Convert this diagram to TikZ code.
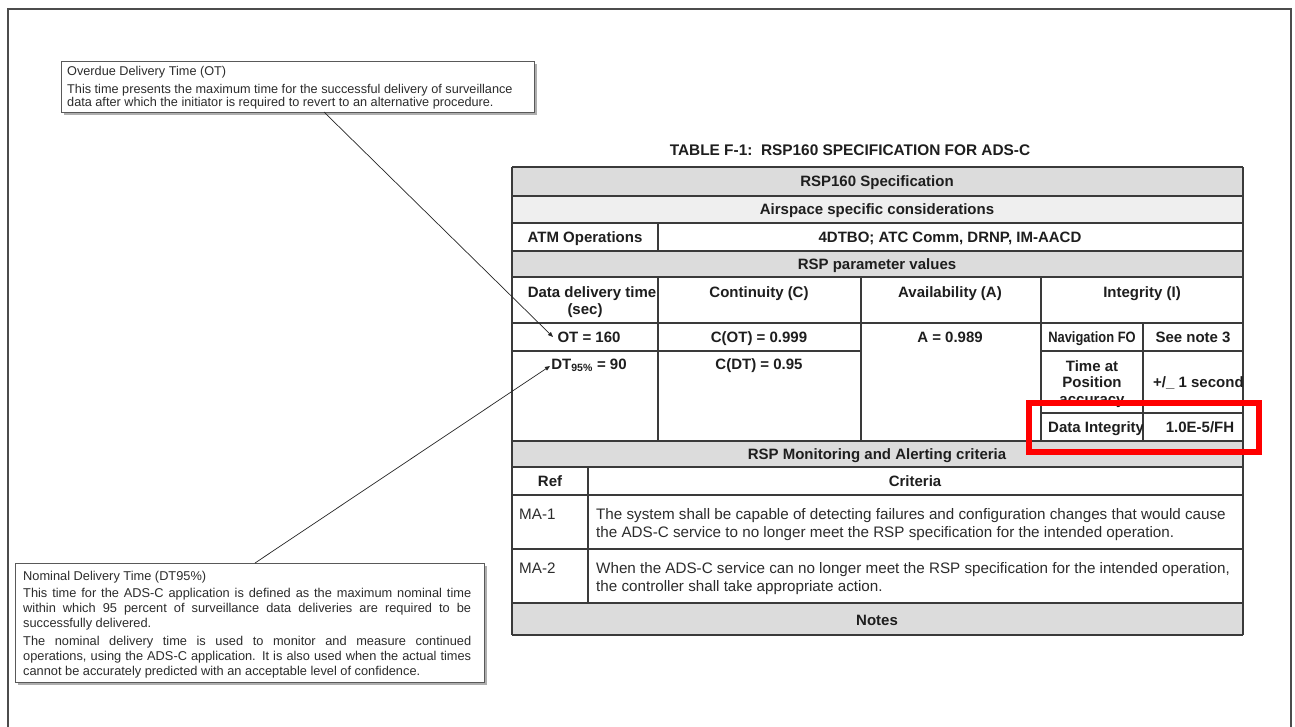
\documentclass[tikz,border=0pt]{standalone}
\usepackage{fontspec}
\setmainfont{Liberation Sans}
\usetikzlibrary{arrows.meta,shadows}
\definecolor{rowgray}{HTML}{DCDCDC}
\definecolor{rowlight}{HTML}{EFEFEF}
\definecolor{rulecol}{HTML}{3A3A3A}
\definecolor{ink}{HTML}{1E1E1E}
\definecolor{softink}{HTML}{2C2C2C}
\definecolor{hilite}{HTML}{FF0000}
\tikzset{
  hd/.style={font=\fontsize{15}{17}\selectfont\bfseries, text=ink, inner sep=0pt, anchor=base},
  hdw/.style={hd, anchor=base west},
  crit/.style={font=\fontsize{15.2}{18}\selectfont, text=softink, inner sep=0pt, anchor=base west},
  callout/.style={draw=black!65, line width=1.2pt, fill=white, inner sep=0pt, anchor=north west,
    drop shadow={shadow xshift=2pt, shadow yshift=-2.5pt, fill=black!45, opacity=0.7}},
  calltxt/.style={font=\fontsize{12.7}{13}\selectfont, text=softink, inner sep=0pt, anchor=base west},
  leader/.style={draw=black!85, line width=0.7pt, -{Triangle[length=5pt,width=4pt]}},
  gridline/.style={draw=rulecol, line width=1.1pt},
}
\begin{document}
\begin{tikzpicture}[x=1pt,y=-1pt]
\useasboundingbox (0,0) rectangle (1295,726);
\fill[white] (0,0) rectangle (1295,726);
% page frame
\draw[black!70, line width=1.5pt] (8,740) -- (8,9) -- (1291,9) -- (1291,740);

% ---- table title
\node[hd, font=\fontsize{15.4}{17}\selectfont\bfseries] (title) at (850,155.5) {TABLE F-1:\ \ RSP160 SPECIFICATION FOR ADS-C};

% ---- shaded rows
\fill[rowgray]  (512,167) rectangle (1243,196);
\fill[rowlight] (512,196) rectangle (1243,223);
\fill[rowgray]  (512,251) rectangle (1243,277);
\fill[rowgray]  (512,441) rectangle (1243,467);
\fill[rowgray]  (512,603) rectangle (1243,635);

% ---- rules
\foreach \yy in {167,196,223,251,277,323,441,467,495,549,603,635}
  \draw[gridline] (512,\yy) -- (1243,\yy);
\draw[gridline] (512,351) -- (861,351);
\draw[gridline] (1041,351) -- (1243,351);
\draw[gridline] (1041,413) -- (1243,413);
\draw[gridline] (512,167) -- (512,635);
\draw[gridline] (1243,167) -- (1243,635);
\draw[gridline] (658,223) -- (658,251);
\foreach \xx in {658,861,1041} \draw[gridline] (\xx,277) -- (\xx,441);
\draw[gridline] (1143,323) -- (1143,441);
\draw[gridline] (588,467) -- (588,603);

% ---- header rows
\node[hd] (spec)   at (877,186.3) {RSP160 Specification};
\node[hd] (air)    at (877,214.3) {Airspace specific considerations};
\node[hd] (atm)    at (585,242.3) {ATM Operations};
\node[hd] (ops)    at (950,242.3) {4DTBO; ATC Comm, DRNP, IM-AACD};
\node[hd] (param)  at (877,269.3) {RSP parameter values};
\begin{scope}
  \clip (513,278) rectangle (657,322);
  \node[hd] (ddt)  at (592,297.3) {Data delivery time};
\end{scope}
\node[hd] (sec)    at (585,314.3) {(sec)};
\node[hd] (cont)   at (759,297.3) {Continuity (C)};
\node[hd] (avail)  at (950,297.3) {Availability (A)};
\node[hd] (integ)  at (1142,297.3) {Integrity (I)};

% ---- values
\node[hd] (ot)     at (589,342.3) {OT = 160};
\node[hd] (cot)    at (759,342.3) {C(OT) = 0.999};
\node[hd] (aval)   at (950,342.3) {A = 0.989};
\begin{scope}
  \clip (1042,324) rectangle (1142,350);
  \node[hd, xscale=0.86] (navfom) at (1092,342.3) {Navigation FO};
\end{scope}
\node[hd] (note3)  at (1193,342.3) {See note 3};
\node[hd] (dt)     at (589,369.3) {DT\textsubscript{95\%} = 90};
\node[hd] (cdt)    at (759,369.3) {C(DT) = 0.95};
\node[hd] (tap1)   at (1092,371) {Time at};
\node[hd] (tap2)   at (1092,387.5) {Position};
\begin{scope}
  \clip (1042,352) rectangle (1142,412);
  \node[hd] (tap3) at (1092,404) {accuracy};
\end{scope}
\begin{scope}
  \clip (1144,352) rectangle (1242,412);
  \node[hdw] (tapv) at (1153,387.5) {+/\_ 1 second};
\end{scope}
\begin{scope}
  \clip (1042,414) rectangle (1142,440);
  \node[hdw] (dint) at (1048,432.3) {Data Integrity};
\end{scope}
\node[hd] (dintv)  at (1200,432.3) {1.0E-5/FH};

% ---- monitoring and alerting
\node[hd] (mon)    at (877,459.3) {RSP Monitoring and Alerting criteria};
\node[hd] (ref)    at (550,486.3) {Ref};
\node[hd] (crith)  at (915,486.3) {Criteria};
\node[crit] (ma1)  at (519,519.5) {MA-1};
\node[crit] (ma1a) at (596,519.5) {The system shall be capable of detecting failures and configuration changes that would cause};
\node[crit] (ma1b) at (596,537.5) {the ADS-C service to no longer meet the RSP specification for the intended operation.};
\node[crit] (ma2)  at (519,573.5) {MA-2};
\node[crit] (ma2a) at (596,573.5) {When the ADS-C service can no longer meet the RSP specification for the intended operation,};
\node[crit] (ma2b) at (596,591.5) {the controller shall take appropriate action.};
\node[hd] (notes)  at (877,625.3) {Notes};

% ---- highlight around data integrity
\draw[hilite, line width=6pt] (1029,403) rectangle (1259,452);

% ---- overdue delivery time callout
\node[callout, minimum width=473pt, minimum height=51pt] (otbox) at (61,61) {};
\node[calltxt] (ott)  at (67,75.5) {Overdue Delivery Time (OT)};
\node[calltxt] (ot1)  at (67,93.5) {This time presents the maximum time for the successful delivery of surveillance};
\node[calltxt] (ot2)  at (67,106.5) {data after which the initiator is required to revert to an alternative procedure.};

% ---- nominal delivery time callout
\node[callout, minimum width=469pt, minimum height=119pt] (dtbox) at (15,563) {};
\node[calltxt, font=\fontsize{12.8}{15}\selectfont] (dtt) at (23,580.7) {Nominal Delivery Time (DT95\%)};
\node[calltxt, font=\fontsize{12.8}{15}\selectfont, anchor=base west, text width=448pt, align=justify] (dtp)
  at (23,597.7) {This time for the ADS-C application is defined as the maximum nominal time\linebreak
  within which 95 percent of surveillance data deliveries are required to be\linebreak
  successfully delivered.\par\vspace{3pt}
  The nominal delivery time is used to monitor and measure continued\linebreak
  operations, using the ADS-C application. It is also used when the actual times\linebreak
  cannot be accurately predicted with an acceptable level of confidence.};

% ---- leaders
\coordinate (otfoot) at (324,112);
\coordinate (ottip)  at (553,337);
\coordinate (dthead) at (255,563);
\coordinate (dttip)  at (550,366);
\draw[leader] (otfoot) -- (ottip);
\draw[leader] (dthead) -- (dttip);
\end{tikzpicture}
\end{document}
